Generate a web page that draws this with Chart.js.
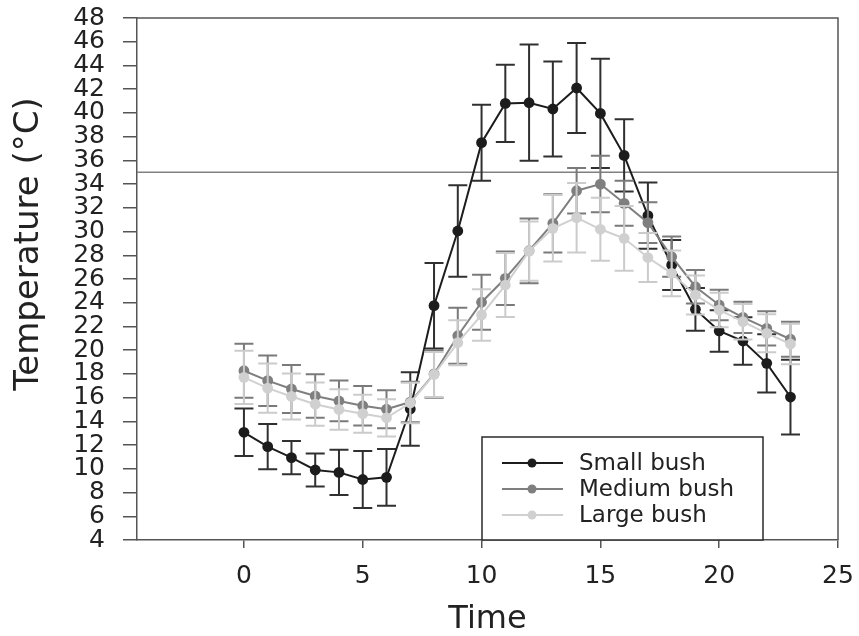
<!DOCTYPE html>
<html>
<head>
<meta charset="utf-8">
<script src="https://cdn.jsdelivr.net/npm/chart.js@4/dist/chart.umd.min.js"></script>
<style>
  html, body { margin: 0; padding: 0; background: #ffffff; }
  canvas { display: block; }
</style>
</head>
<body>
<canvas id="c" width="859" height="636"></canvas>
<script>
// ---- Data ----
const hours = [0,1,2,3,4,5,6,7,8,9,10,11,12,13,14,15,16,17,18,19,20,21,22,23];

const smallBush    = [13.08, 11.87, 10.94, 9.9, 9.7, 9.1, 9.28, 15.04, 23.75, 30.05, 37.49, 40.8, 40.86, 40.33, 42.1, 39.96, 36.42, 31.34, 27.18, 23.44, 21.62, 20.77, 18.89, 16.05];
const smallBushErr = [2.0, 1.9, 1.4, 1.4, 1.9, 2.4, 2.4, 3.1, 3.6, 3.85, 3.2, 3.25, 4.9, 4.0, 3.8, 4.6, 3.05, 2.8, 2.1, 1.8, 1.75, 2.0, 2.45, 3.15];

const mediumBush    = [18.27, 17.43, 16.73, 16.14, 15.72, 15.32, 15.02, 15.63, 18.0, 21.22, 24.04, 26.06, 28.38, 30.69, 33.44, 34.0, 32.38, 30.75, 27.88, 25.35, 23.81, 22.77, 21.84, 20.92];
const mediumBushErr = [2.27, 2.13, 2.03, 1.83, 1.72, 1.67, 1.6, 1.7, 2.0, 2.36, 2.32, 2.26, 2.73, 2.45, 1.92, 2.38, 1.9, 1.72, 1.7, 1.41, 1.28, 1.32, 1.45, 1.48];

const largeBush    = [17.71, 16.8, 16.1, 15.45, 15.0, 14.65, 14.3, 15.55, 17.95, 20.63, 22.97, 25.49, 28.35, 30.27, 31.17, 30.19, 29.43, 27.81, 26.48, 24.65, 23.39, 22.4, 21.42, 20.52];
const largeBushErr = [2.25, 2.08, 1.94, 1.83, 1.7, 1.6, 1.57, 1.7, 1.9, 1.9, 2.17, 2.7, 2.5, 2.8, 2.93, 2.66, 2.73, 2.06, 1.93, 1.65, 1.45, 1.5, 1.6, 1.7];

const seriesNames = ['Small bush', 'Medium bush', 'Large bush'];
const xTickValues = [0, 5, 10, 15, 20, 25];
const yTickValues = [4,6,8,10,12,14,16,18,20,22,24,26,28,30,32,34,36,38,40,42,44,46,48];
const thresholdValue = 35;
const xTitle = 'Time';
const yTitle = 'Temperature (°C)';

// ---- Styles ----
const FONT = '"DejaVu Sans", "Liberation Sans", Arial, sans-serif';
const lineColors = ['#1c1c1c', '#7f7f7f', '#d0d0d0'];
const errColors  = ['#303030', '#7a7a7a', '#cbcbcb'];
const AXIS = '#555555';
const TEXT = '#222222';

function toPoints(vals) { return vals.map((v, i) => ({ x: hours[i], y: v })); }
const errs = [smallBushErr, mediumBushErr, largeBushErr];

const errorBarPlugin = {
  id: 'errorBars',
  beforeDatasetDraw(chart, args) {
    const { ctx, scales } = chart;
    const ds = chart.data.datasets[args.index];
    const e = errs[args.index];
    ctx.save();
    ctx.strokeStyle = errColors[args.index];
    ctx.lineWidth = 2;
    args.meta.data.forEach((pt, i) => {
      const v = ds.data[i].y;
      const x = pt.x;
      const yt = scales.y.getPixelForValue(v + e[i]);
      const yb = scales.y.getPixelForValue(v - e[i]);
      const hw = 9.5;
      ctx.beginPath();
      ctx.moveTo(x, yt); ctx.lineTo(x, yb);
      ctx.moveTo(x - hw, yt); ctx.lineTo(x + hw, yt);
      ctx.moveTo(x - hw, yb); ctx.lineTo(x + hw, yb);
      ctx.stroke();
    });
    ctx.restore();
  }
};

const framePlugin = {
  id: 'frame',
  beforeDatasetsDraw(chart) {
    const { ctx, chartArea: a, scales } = chart;
    ctx.save();
    const yy = scales.y.getPixelForValue(thresholdValue);
    ctx.strokeStyle = '#808080';
    ctx.lineWidth = 1.3;
    ctx.beginPath();
    ctx.moveTo(a.left, yy); ctx.lineTo(a.right, yy);
    ctx.stroke();
    ctx.strokeStyle = AXIS;
    ctx.lineWidth = 1.5;
    ctx.beginPath();
    ctx.moveTo(a.left, a.top); ctx.lineTo(a.right, a.top); ctx.lineTo(a.right, a.bottom);
    ctx.stroke();
    ctx.restore();
  },
  afterDraw(chart) {
    const { ctx, chartArea: a } = chart;
    ctx.save();
    ctx.fillStyle = TEXT;
    ctx.font = '34px ' + FONT;
    ctx.textAlign = 'center';
    ctx.textBaseline = 'middle';
    ctx.translate(29, 244);
    ctx.rotate(-Math.PI / 2);
    ctx.fillText(yTitle, 0, 0);
    ctx.restore();

    ctx.save();
    const bx = 482, by = 437, bw = 281, bh = a.bottom - 437;
    ctx.fillStyle = '#ffffff';
    ctx.fillRect(bx, by, bw, bh);
    ctx.strokeStyle = '#2a2a2a';
    ctx.lineWidth = 1.5;
    ctx.strokeRect(bx, by, bw, bh);
    const rows = [463, 489, 515];
    ctx.font = '23px ' + FONT;
    ctx.textAlign = 'left';
    ctx.textBaseline = 'middle';
    seriesNames.forEach((name, i) => {
      const y = rows[i];
      ctx.strokeStyle = lineColors[i];
      ctx.lineWidth = 2;
      ctx.beginPath();
      ctx.moveTo(502, y); ctx.lineTo(563, y);
      ctx.stroke();
      ctx.fillStyle = lineColors[i];
      ctx.beginPath();
      ctx.arc(532, y, 4.5, 0, Math.PI * 2);
      ctx.fill();
      ctx.fillStyle = TEXT;
      ctx.fillText(name, 579, y + 1);
    });
    ctx.restore();
  }
};

const data = {
  datasets: [smallBush, mediumBush, largeBush].map((vals, i) => ({
    label: seriesNames[i],
    data: toPoints(vals),
    borderColor: lineColors[i],
    backgroundColor: lineColors[i],
    pointBackgroundColor: lineColors[i],
    pointBorderColor: lineColors[i],
    pointRadius: 5.4,
    pointBorderWidth: 0,
    borderWidth: 2,
    tension: 0,
    order: 3 - i
  }))
};

new Chart(document.getElementById('c'), {
  type: 'line',
  data,
  plugins: [errorBarPlugin, framePlugin],
  options: {
    responsive: false,
    animation: false,
    devicePixelRatio: 1,
    layout: { padding: { left: 0, right: 21, top: 18, bottom: 0 } },
    plugins: { legend: { display: false }, tooltip: { enabled: false } },
    scales: {
      x: {
        type: 'linear',
        min: -4.5,
        max: 25,
        afterBuildTicks(scale) { scale.ticks = xTickValues.map(v => ({ value: v })); },
        afterFit(scale) { scale.height = 96; scale.paddingLeft = 0; scale.paddingRight = 0; },
        grid: { drawOnChartArea: false, drawTicks: true, tickLength: 8, color: AXIS, lineWidth: 1.5 },
        border: { display: true, color: AXIS, width: 1.5 },
        ticks: { color: TEXT, font: { family: FONT, size: 25 }, padding: 13, maxRotation: 0, autoSkip: false },
        title: { display: true, text: xTitle, color: TEXT, font: { family: FONT, size: 32, lineHeight: 1 }, padding: { top: 0, bottom: 0 } }
      },
      y: {
        type: 'linear',
        min: 4,
        max: 48,
        afterBuildTicks(scale) { scale.ticks = yTickValues.map(v => ({ value: v })); },
        afterFit(scale) { scale.width = 137; scale.paddingTop = 0; scale.paddingBottom = 0; },
        grid: { drawOnChartArea: false, drawTicks: true, tickLength: 14, color: AXIS, lineWidth: 1.5 },
        border: { display: true, color: AXIS, width: 1.5 },
        ticks: { color: TEXT, font: { family: FONT, size: 25 }, padding: 18, autoSkip: false }
      }
    }
  }
});
</script>
</body>
</html>
